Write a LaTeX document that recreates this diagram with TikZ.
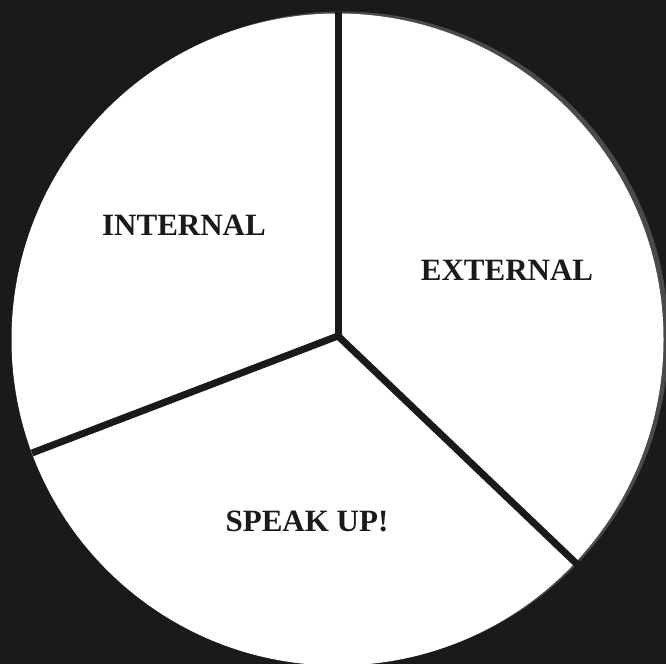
\documentclass[tikz,border=0pt]{standalone}
\usepackage{fontspec}
\setmainfont{Liberation Serif}
\definecolor{bg}{HTML}{1A1A1A}
\definecolor{shadowgray}{HTML}{4A4A4A}
\begin{document}
\begin{tikzpicture}[x=1pt,y=1pt,
  divider/.style={draw=bg,line width=7pt},
  label/.style={font=\fontsize{31}{32}\selectfont\bfseries,text=bg,inner sep=0pt,anchor=base}]
\useasboundingbox (0,0) rectangle (666,664);
\fill[bg] (0,0) rectangle (666,664);
\fill[shadowgray] (342.5,326.5) circle[radius=326];
\fill[white] (337.5,324.5) circle[radius=326];
\coordinate (c) at (338,328);
\coordinate (top) at (338,652);
\coordinate (left) at (32,211);
\coordinate (right) at (580,97);
\draw[divider] (c) -- (top);
\draw[divider] (c) -- (left);
\draw[divider] (c) -- (right);
\node[label] (internal) at (184,428) {INTERNAL};
\node[label] (external) at (507,383) {EXTERNAL};
\node[label] (speak) at (307,133) {SPEAK UP!};
\end{tikzpicture}
\end{document}
